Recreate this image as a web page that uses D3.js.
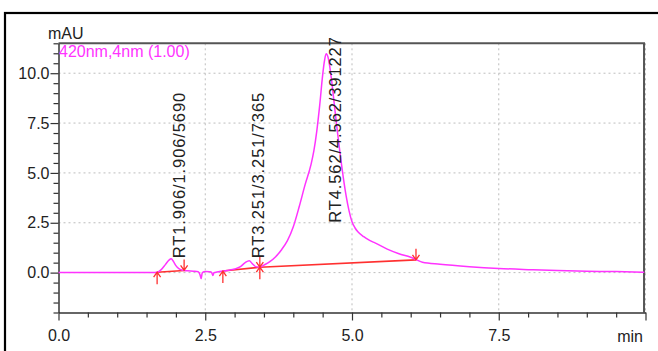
<!DOCTYPE html>
<html>
<head>
<meta charset="utf-8">
<script src="https://cdn.jsdelivr.net/npm/d3@7"></script>
<style>
  body { margin: 0; background: #fff; }
  svg { display: block; font-family: Arial, "Liberation Sans", sans-serif; }
</style>
</head>
<body>
<svg id="chart" width="658" height="351"></svg>
<script>
// signal (420nm) - time in min, absorbance in mAU
const times = [0, 1.6, 1.68, 1.75, 1.82, 1.88, 1.92, 1.96, 2.0, 2.05, 2.1, 2.14, 2.2, 2.3, 2.38, 2.41, 2.43, 2.45,
  2.5, 2.58, 2.61, 2.63, 2.65, 2.7, 2.8, 2.9, 3.0, 3.1, 3.18, 3.25, 3.3, 3.36, 3.43, 3.5, 3.6, 3.7, 3.8, 3.9,
  4.0, 4.1, 4.2, 4.3, 4.35, 4.4, 4.45, 4.5, 4.53, 4.56, 4.6, 4.65, 4.7, 4.75, 4.8, 4.85, 4.9, 4.95, 5.0, 5.05,
  5.1, 5.2, 5.3, 5.4, 5.6, 5.8, 6.0, 6.1, 6.2, 6.5, 7.0, 7.5, 8.0, 8.5, 9.0, 9.5, 9.98];
const values = [0, 0, 0.02, 0.15, 0.4, 0.62, 0.7, 0.55, 0.35, 0.2, 0.13, 0.11, 0.09, 0.07, 0.04, -0.1, -0.3, 0.0,
  0.05, 0.04, 0.0, -0.15, 0.0, 0.03, 0.08, 0.12, 0.18, 0.3, 0.5, 0.6, 0.45, 0.3, 0.27, 0.38, 0.55, 0.8, 1.15, 1.6,
  2.3, 3.3, 4.4, 5.4, 6.1, 7.1, 8.4, 9.9, 10.6, 10.97, 10.7, 9.7, 8.4, 7.1, 5.9, 4.8, 3.85, 3.1, 2.55, 2.25,
  2.05, 1.8, 1.62, 1.48, 1.18, 0.95, 0.77, 0.64, 0.52, 0.42, 0.3, 0.21, 0.15, 0.1, 0.07, 0.05, 0.02];

// integration baselines (start / end)
const baseStartT = [1.68, 2.80, 3.43];
const baseStartV = [0.02, 0.08, 0.27];
const baseEndT = [2.14, 3.43, 6.09];
const baseEndV = [0.11, 0.27, 0.64];

// peak labels
const peakTimes = [1.906, 3.251, 4.562];
const peakLabels = ["RT1.906/1.906/5690", "RT3.251/3.251/7365", "RT4.562/4.562/391227"];
const labelBase = [0.72, 0.72, 2.5];

const xMajor = [0, 2.5, 5, 7.5];
const yMajor = [0, 2.5, 5, 7.5, 10];

const svg = d3.select('#chart');

const x = d3.scaleLinear().domain([0, 10]).range([58.5, 645.5]);
const y = d3.scaleLinear().domain([-2.0, 11.5]).range([312.5, 43.3]);
const xEnd = 9.975;

// outer frame
svg.append('rect')
  .attr('x', 5).attr('y', 13).attr('width', 700).attr('height', 400)
  .attr('fill', 'none').attr('stroke', '#000').attr('stroke-width', 2.2);

// grid
const grid = svg.append('g').attr('stroke', '#bdbdbd').attr('stroke-dasharray', '2,3').attr('stroke-width', 1);
grid.selectAll('.gx').data([2.5, 5, 7.5, 10]).enter().append('line')
  .attr('x1', d => x(d)).attr('x2', d => x(d))
  .attr('y1', y(11.5)).attr('y2', y(-2));
grid.selectAll('.gy').data(yMajor).enter().append('line')
  .attr('x1', x(0)).attr('x2', x(10))
  .attr('y1', d => y(d)).attr('y2', d => y(d));

// plot box (top and right)
svg.append('path')
  .attr('d', `M${x(0)},${y(11.5)}H${x(xEnd)}V${y(-2)}`)
  .attr('fill', 'none').attr('stroke', '#555').attr('stroke-width', 2);

// axes
const minorY = d3.range(-2, 11.51, 0.5).filter(v => Math.abs(v % 2.5) > 1e-6);
const minorX = d3.range(0, 10.01, 0.5).filter(v => Math.abs(v % 2.5) > 1e-6);

svg.append('g').attr('transform', `translate(${x(0)},0)`)
  .call(d3.axisLeft(y).tickValues(yMajor).tickFormat(d3.format('.1f')).tickSize(8).tickPadding(1).tickSizeOuter(0));
svg.append('g').attr('transform', `translate(${x(0)},0)`)
  .call(d3.axisLeft(y).tickValues(minorY).tickFormat('').tickSize(5).tickSizeOuter(0))
  .select('.domain').remove();

svg.append('g').attr('transform', `translate(0,${y(-2)})`)
  .call(d3.axisBottom(x).tickValues(xMajor.concat([10])).tickFormat(d => d === 10 ? '' : d3.format('.1f')(d))
    .tickSize(8).tickPadding(9).tickSizeOuter(0));
svg.append('g').attr('transform', `translate(0,${y(-2)})`)
  .call(d3.axisBottom(x).tickValues(minorX).tickFormat('').tickSize(5).tickSizeOuter(0))
  .select('.domain').remove();

svg.selectAll('.domain').attr('stroke', '#333').attr('stroke-width', 1.5);
svg.selectAll('.tick line').attr('stroke', '#333').attr('stroke-width', 1.2);
svg.selectAll('.tick text').attr('font-size', 16).attr('fill', '#222')
  .attr('font-family', 'Arial, "Liberation Sans", sans-serif');

svg.append('text').attr('x', 48).attr('y', 39).attr('font-size', 16).attr('fill', '#222').text('mAU');
svg.append('text').attr('x', 643).attr('y', 342).attr('text-anchor', 'end')
  .attr('font-size', 16).attr('fill', '#222').text('min');

// baselines (red)
const red = '#ff3030';
svg.append('g').selectAll('line').data(baseStartT).enter().append('line')
  .attr('x1', (d, i) => x(d)).attr('y1', (d, i) => y(baseStartV[i]))
  .attr('x2', (d, i) => x(baseEndT[i])).attr('y2', (d, i) => y(baseEndV[i]))
  .attr('stroke', red).attr('stroke-width', 1.6);

// signal
const pts = times.map((t, i) => [t, values[i]]);
svg.append('path').datum(pts)
  .attr('d', d3.line().x(d => x(d[0])).y(d => y(d[1])).curve(d3.curveMonotoneX))
  .attr('fill', 'none').attr('stroke', '#ff33ff').attr('stroke-width', 1.5);

// integration markers
const arrows = svg.append('g').attr('stroke', red).attr('stroke-width', 1.3).attr('fill', 'none');
baseStartT.forEach((t, i) => {
  const px = x(t), py = y(baseStartV[i]);
  arrows.append('path').attr('d', `M${px},${py + 12}V${py}M${px - 3.5},${py + 5}L${px},${py}L${px + 3.5},${py + 5}`);
});
baseEndT.forEach((t, i) => {
  const px = x(t), py = y(baseEndV[i]);
  arrows.append('path').attr('d', `M${px},${py - 11}V${py}M${px - 3.5},${py - 5}L${px},${py}L${px + 3.5},${py - 5}`);
});

// channel label
svg.append('text').attr('x', 59).attr('y', 57).attr('font-size', 16).attr('fill', '#ff33ff')
  .text('420nm,4nm (1.00)');

// peak labels
svg.append('g').selectAll('text').data(peakTimes).enter().append('text')
  .attr('transform', (d, i) => `translate(${x(d) + 14.5},${y(labelBase[i])}) rotate(-90)`)
  .attr('font-size', 16.5).attr('letter-spacing', 0.9).attr('fill', '#222')
  .text((d, i) => peakLabels[i]);
</script>
</body>
</html>
